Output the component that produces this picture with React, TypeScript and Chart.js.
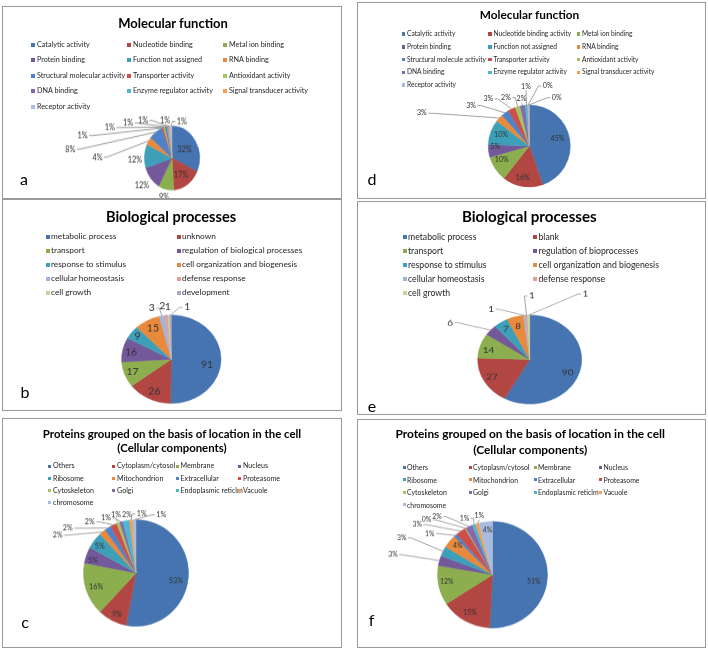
import React, { useEffect, useRef } from 'react';
import { Chart, registerables } from 'chart.js';

Chart.register(...registerables);

// ---------------- DATA ----------------
const mfCategoriesA = ['Catalytic activity', 'Nucleotide binding', 'Metal ion binding', 'Protein binding', 'Function not assigned', 'RNA binding', 'Structural molecular activity', 'Transporter activity', 'Antioxidant activity', 'DNA binding', 'Enzyme regulator activity', 'Signal transducer activity', 'Receptor activity'];
const mfPercentA = [32, 17, 9, 12, 12, 4, 8, 1, 1, 1, 1, 1, 1];

const mfCategoriesD = ['Catalytic activity', 'Nucleotide binding activity', 'Metal ion binding', 'Protein binding', 'Function not assigned', 'RNA binding', 'Structural molecule activity', 'Transporter activity', 'Antioxidant activity', 'DNA binding', 'Enzyme regulator activity', 'Signal transducer activity', 'Receptor activity'];
const mfPercentD = [45, 16, 10, 5, 10, 3, 3, 3, 2, 2, 1, 0.3, 0.3];

const bpCategoriesB = ['metabolic process', 'unknown', 'transport', 'regulation of biological processes', 'response to stimulus', 'cell organization and biogenesis', 'cellular homeostasis', 'defense response', 'cell growth', 'development'];
const bpCountsB = [91, 26, 17, 16, 9, 15, 3, 2, 1, 1];

const bpCategoriesE = ['metabolic process', 'blank', 'transport', 'regulation of bioprocesses', 'response to stimulus', 'cell organization and biogenesis', 'cellular homeostasis', 'defense response', 'cell growth'];
const bpCountsE = [90, 27, 14, 6, 7, 8, 1, 1, 1];

const ccCategories = ['Others', 'Cytoplasm/cytosol', 'Membrane', 'Nucleus', 'Ribosome', 'Mitochondrion', 'Extracellular', 'Proteasome', 'Cytoskeleton', 'Golgi', 'Endoplasmic reticlm', 'Vacuole', 'chromosome'];
const ccPercentC = [53, 9, 16, 5, 5, 2, 2, 2, 1, 1, 2, 1, 1];
const ccPercentF = [51, 15, 12, 3, 3, 4, 1, 3, 0.3, 2, 1, 1, 4];

const mfTitle = ['Molecular function'];
const bpTitle = ['Biological processes'];
const ccTitle = ['Proteins grouped on the basis of location in the cell', '(Cellular components)'];

// ---------------- STYLE ----------------
const colors13 = ['#4674B0', '#B24643', '#8DAE4E', '#73599A', '#3E9FB9', '#E8893B', '#4F83C9', '#CC4F4B', '#A2C65E', '#8767AD', '#4CB7D3', '#F99D52', '#A8BCE0'];
const colors10 = ['#4674B0', '#B24643', '#8DAE4E', '#73599A', '#3E9FB9', '#E8893B', '#9FB5DA', '#DDA09F', '#C2D69C', '#B4A4CA'];

const FONT = 'Lato, "Open Sans", sans-serif';

// label placement (relative to pie centre, in units of the pie radii); third item = leader line
const labelPosA = [[0.45, -0.27], [0.33, 0.53], [-0.29, 1.22], [-1.09, 0.86], [-1.34, 0.06], [-2.70, -0.03, 1], [-3.68, -0.28, 1], [-3.24, -0.70, 1], [-2.25, -0.95, 1], [-1.59, -1.09, 1], [-1.05, -1.17, 1], [-0.25, -1.17, 1], [0.36, -1.14, 1]];
const labelPosD = [[0.69, -0.19], [-0.16, 0.77], [-0.67, 0.34], [-0.83, 0.02], [-0.69, -0.27], [-2.62, -0.80, 1], [-1.42, -0.99, 1], [-1.0, -1.15, 1], [-0.57, -1.18, 1], [-0.19, -1.15, 1], [-0.08, -1.45, 1], [0.45, -1.46, 1], [0.67, -1.18, 1]];
const labelPosB = [[0.72, 0.13], [-0.34, 0.74], [-0.78, 0.28], [-0.81, -0.15], [-0.68, -0.51], [-0.37, -0.70], [-0.39, -1.15, 1], [-0.18, -1.19], [-0.07, -1.17], [0.32, -1.17, 1]];
const labelPosE = [[0.73, 0.29], [-0.725, 0.39], [-0.79, -0.21], [-1.53, -0.83, 1], [-0.46, -0.68], [-0.22, -0.75], [-0.74, -1.13, 1], [0.04, -1.43, 1], [1.07, -1.47, 1]];
const labelPosC = [[0.76, 0.15], [-0.36, 0.77], [-0.76, 0.26], [-0.82, -0.24], [-0.69, -0.51], [-1.49, -0.71, 1], [-1.30, -0.84, 1], [-0.88, -0.96, 1], [-0.57, -1.03, 1], [-0.38, -1.09, 1], [-0.17, -1.09], [0.11, -1.11, 1], [0.48, -1.09, 1]];
const labelPosF = [[0.75, 0.12], [-0.41, 0.71], [-0.83, 0.12], [-1.81, -0.375, 1], [-1.65, -0.69, 1], [-0.63, -0.55], [-1.14, -0.77, 1], [-1.37, -0.94, 1], [-1.20, -1.03, 1], [-1.01, -1.09, 1], [-0.51, -1.06, 1], [-0.24, -1.10, 1], [-0.09, -0.84]];

type PanelCfg = {
  key: string; left: number; top: number; w: number; h: number;
  title: string[]; titleSize: number; titleX: number; titleY: number[];
  categories: string[]; values: number[]; colors: string[]; percent: boolean;
  legend: { cols: number; textX: number[]; row0: number; rowH: number; box: number; boxGap: number; font: number };
  pie: { cx: number; cy: number; rx: number; ry: number };
  labelPos: number[][]; labelFont: number;
  letter: { text: string; x: number; y: number };
};

const panels: PanelCfg[] = [
  {
    key: 'a', left: 2, top: 6, w: 340, h: 193,
    title: mfTitle, titleSize: 13, titleX: 171, titleY: [17],
    categories: mfCategoriesA, values: mfPercentA, colors: colors13, percent: true,
    legend: { cols: 3, textX: [35, 131, 227], row0: 39, rowH: 15.4, box: 4, boxGap: 2.5, font: 7.2 },
    pie: { cx: 170, cy: 152, rx: 27.6, ry: 32 },
    labelPos: labelPosA, labelFont: 7.4,
    letter: { text: 'a', x: 22, y: 173 },
  },
  {
    key: 'd', left: 357, top: 2, w: 349, h: 197,
    title: mfTitle, titleSize: 11.8, titleX: 172.5, titleY: [13],
    categories: mfCategoriesD, values: mfPercentD, colors: colors13, percent: true,
    legend: { cols: 3, textX: [50, 136.5, 225], row0: 32, rowH: 12.8, box: 3.5, boxGap: 2, font: 6.6 },
    pie: { cx: 172.3, cy: 144, rx: 41, ry: 41 },
    labelPos: labelPosD, labelFont: 7.1,
    letter: { text: 'd', x: 15, y: 177 },
  },
  {
    key: 'b', left: 2, top: 199, w: 340, h: 212,
    title: bpTitle, titleSize: 14.6, titleX: 169, titleY: [17.7],
    categories: bpCategoriesB, values: bpCountsB, colors: colors10, percent: false,
    legend: { cols: 2, textX: [49, 180], row0: 38, rowH: 14.1, box: 4, boxGap: 1.5, font: 8.3 },
    pie: { cx: 169.3, cy: 160.2, rx: 49.7, ry: 44.2 },
    labelPos: labelPosB, labelFont: 10.5,
    letter: { text: 'b', x: 23, y: 193 },
  },
  {
    key: 'e', left: 357, top: 201, w: 349, h: 214,
    title: bpTitle, titleSize: 15.1, titleX: 172.3, titleY: [15.7],
    categories: bpCategoriesE, values: bpCountsE, colors: colors10, percent: false,
    legend: { cols: 2, textX: [51, 181.5], row0: 36.3, rowH: 14, box: 4, boxGap: 1.5, font: 8.7 },
    pie: { cx: 172.7, cy: 158.5, rx: 52, ry: 44.5 },
    labelPos: labelPosE, labelFont: 10,
    letter: { text: 'e', x: 15, y: 205 },
  },
  {
    key: 'c', left: 2, top: 418, w: 340, h: 230,
    title: ccTitle, titleSize: 11.4, titleX: 170, titleY: [15.7, 29.8],
    categories: ccCategories, values: ccPercentC, colors: colors13, percent: true,
    legend: { cols: 4, textX: [51, 115, 178.5, 241], row0: 48.3, rowH: 12.2, box: 3, boxGap: 2, font: 7.1 },
    pie: { cx: 134, cy: 155, rx: 52.5, ry: 53.3 },
    labelPos: labelPosC, labelFont: 7.2,
    letter: { text: 'c', x: 23, y: 204 },
  },
  {
    key: 'f', left: 357, top: 419, w: 349, h: 229,
    title: ccTitle, titleSize: 11.9, titleX: 173.2, titleY: [15, 31.3],
    categories: ccCategories, values: ccPercentF, colors: colors13, percent: true,
    legend: { cols: 4, textX: [50, 116, 181, 246.5], row0: 48.3, rowH: 12.5, box: 3, boxGap: 1.5, font: 6.9 },
    pie: { cx: 135.5, cy: 155.7, rx: 55, ry: 53.3 },
    labelPos: labelPosF, labelFont: 6.9,
    letter: { text: 'f', x: 14.5, y: 201 },
  },
];

function makeLabelPlugin(cfg: PanelCfg) {
  return {
    id: 'pieLabels_' + cfg.key,
    afterDatasetsDraw(chart: any) {
      const ctx = chart.ctx as CanvasRenderingContext2D;
      const meta = chart.getDatasetMeta(0);
      const values = chart.data.datasets[0].data as number[];
      const fs = cfg.labelFont;
      ctx.save();
      ctx.font = `${fs}px ${FONT}`;
      ctx.textAlign = 'center';
      ctx.textBaseline = 'middle';
      meta.data.forEach((el: any, i: number) => {
        const p = el.getProps(['x', 'y', 'startAngle', 'endAngle', 'outerRadius'], true);
        const pos = cfg.labelPos[i];
        const r = p.outerRadius;
        const lx = p.x + pos[0] * r;
        const ly = p.y + pos[1] * r;
        const v = values[i];
        const text = cfg.percent ? `${Math.round(v)}%` : String(v);
        if (pos[2]) {
          const mid = (p.startAngle + p.endAngle) / 2;
          const ax = p.x + r * Math.cos(mid);
          const ay = p.y + r * Math.sin(mid);
          const w = ctx.measureText(text).width;
          ctx.beginPath();
          ctx.strokeStyle = '#8C8C8C';
          ctx.lineWidth = 0.8;
          if (Math.abs(ax - lx) > w / 2 + 2) {
            const dir = ax > lx ? 1 : -1;
            const sx = lx + dir * (w / 2 + 1.5);
            ctx.moveTo(sx, ly);
            ctx.lineTo(sx + dir * 3, ly);
            ctx.lineTo(ax, ay);
          } else {
            const dir = ay > ly ? 1 : -1;
            ctx.moveTo(lx, ly + dir * fs * 0.55);
            ctx.lineTo(ax, ay);
          }
          ctx.stroke();
        }
        ctx.fillStyle = '#333333';
        ctx.fillText(text, lx, ly);
      });
      ctx.restore();
    },
  };
}

function Panel({ cfg }: { cfg: PanelCfg }) {
  const ref = useRef<HTMLCanvasElement>(null);
  const { cx, cy, rx, ry } = cfg.pie;
  const k = ry / rx;
  useEffect(() => {
    const canvas = ref.current;
    if (!canvas) return;
    const W = cfg.w, H = cfg.h;
    const s = 5;
    const chart = new Chart(canvas, {
      type: 'pie',
      data: {
        labels: cfg.categories,
        datasets: [{
          data: cfg.values,
          backgroundColor: cfg.colors,
          borderColor: cfg.colors,
          borderWidth: 0.5,
          radius: rx,
        } as any],
      },
      options: {
        responsive: false,
        animation: false,
        devicePixelRatio: 1,
        events: [],
        layout: { padding: { left: cx - s, right: W - cx - s, top: cy - s, bottom: H - cy - s } },
        plugins: { legend: { display: false }, title: { display: false }, tooltip: { enabled: false } },
      } as any,
      plugins: [makeLabelPlugin(cfg)],
    });
    return () => chart.destroy();
  }, []);

  const lg = cfg.legend;
  return (
    <div style={{ position: 'absolute', left: cfg.left, top: cfg.top, width: cfg.w, height: cfg.h, overflow: 'hidden', background: '#fff' }}>
      <canvas
        ref={ref}
        width={cfg.w}
        height={cfg.h}
        style={{ position: 'absolute', left: 0, top: 0, width: cfg.w, height: cfg.h, transform: `scaleY(${k})`, transformOrigin: `${cx}px ${cy}px`, zIndex: 0 }}
      />
      {cfg.title.map((t, i) => (
        <div key={'t' + i} style={{ position: 'absolute', left: cfg.titleX, top: cfg.titleY[i], transform: 'translate(-50%, -50%)', whiteSpace: 'nowrap', fontFamily: FONT, fontWeight: 700, fontSize: cfg.titleSize, lineHeight: 1, color: '#000', zIndex: 1 }}>{t}</div>
      ))}
      {cfg.categories.map((c, i) => {
        const col = i % lg.cols;
        const row = Math.floor(i / lg.cols);
        const tx = lg.textX[col];
        const y = lg.row0 + row * lg.rowH;
        return (
          <React.Fragment key={'l' + i}>
            <div style={{ position: 'absolute', left: tx - lg.boxGap - lg.box, top: y - lg.box / 2, width: lg.box, height: lg.box, background: cfg.colors[i], zIndex: 1 }} />
            <div style={{ position: 'absolute', left: tx, top: y, transform: 'translateY(-50%)', whiteSpace: 'nowrap', fontFamily: FONT, fontSize: lg.font, lineHeight: 1.2, color: '#262626', zIndex: 1 }}>{c}</div>
          </React.Fragment>
        );
      })}
      <div style={{ position: 'absolute', left: cfg.letter.x, top: cfg.letter.y, transform: 'translate(-50%, -50%)', fontFamily: FONT, fontSize: 16, lineHeight: 1, color: '#000', zIndex: 1 }}>{cfg.letter.text}</div>
      <div style={{ position: 'absolute', left: 0, top: 0, width: cfg.w, height: cfg.h, boxSizing: 'border-box', border: '1px solid #9A9A9A', zIndex: 2, pointerEvents: 'none' }} />
    </div>
  );
}

export default function App() {
  return (
    <div style={{ position: 'absolute', left: 0, top: 0, width: 708, height: 650, background: '#fff', overflow: 'hidden' }}>
      {panels.map((p) => <Panel key={p.key} cfg={p} />)}
    </div>
  );
}
